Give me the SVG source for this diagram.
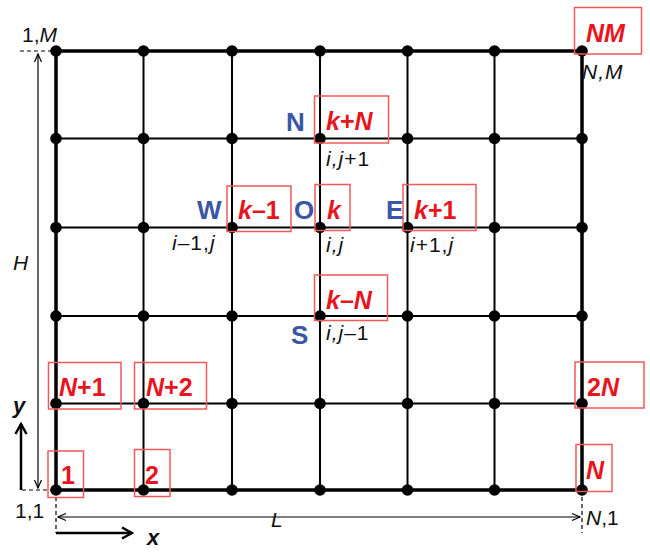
<svg xmlns="http://www.w3.org/2000/svg" width="650" height="552" viewBox="0 0 650 552">
<defs>
<marker id="dimArrow" markerWidth="10" markerHeight="10" refX="9" refY="5" orient="auto-start-reverse" markerUnits="userSpaceOnUse">
<path d="M1,1.5 L9,5 L1,8.5" fill="none" stroke="#000" stroke-width="1.2"/>
</marker>
<marker id="axArrow" markerWidth="14" markerHeight="14" refX="12" refY="7" orient="auto" markerUnits="userSpaceOnUse">
<path d="M2,1.5 L12,7 L2,12.5" fill="none" stroke="#000" stroke-width="2.5"/>
</marker>
<style>
.inner{stroke:#000;stroke-width:2;fill:none}
.outer{stroke:#000;stroke-width:3.5;fill:none}
.dim{stroke:#000;stroke-width:1.2;fill:none}
.dash{stroke:#000;stroke-width:1.2;stroke-dasharray:4,3;fill:none}
.axis{stroke:#000;stroke-width:2.5;fill:none}
.dot{fill:#000}
.box{fill:none;stroke:#f05a5a;stroke-width:1.5}
.red{font-family:"Liberation Sans",Arial,sans-serif;font-weight:bold;font-size:25px;fill:#e8141e}
.ri{font-style:italic}
.blue{font-family:"Liberation Sans",Arial,sans-serif;font-weight:bold;font-size:26px;fill:#3a56a6}
.lbl{font-family:"Liberation Sans",Arial,sans-serif;font-size:21px;fill:#111}
.sp{letter-spacing:1px}
.it{font-style:italic}
.ax{font-weight:bold;font-size:22px}
</style>
</defs>
<g id="connectors">
<path class="inner" d="M143.5,51V490M232,51V490M320,51V490M407.5,51V490M494.5,51V490M56,138.5H582M56,227.5H582M56,316H582M56,403.5H582"/>
<rect class="outer" x="56" y="51" width="526" height="439"/>
<line class="dim" x1="38" y1="54" x2="38" y2="488" marker-start="url(#dimArrow)" marker-end="url(#dimArrow)"/>
<line class="dim" x1="58" y1="517" x2="580" y2="517" marker-start="url(#dimArrow)" marker-end="url(#dimArrow)"/>
<line class="dash" x1="20" y1="51" x2="56" y2="51"/>
<line class="dash" x1="22" y1="490" x2="56" y2="490"/>
<line class="dash" x1="56" y1="490" x2="56" y2="533"/>
<line class="dash" x1="582" y1="490" x2="582" y2="533"/>
<path class="axis" d="M21,490V424" marker-end="url(#axArrow)"/>
<path class="axis" d="M56,533H132" marker-end="url(#axArrow)"/>
</g>
<g id="nodes">
<g id="n-1-6"><circle class="dot" cx="56" cy="51" r="5.8"/></g>
<g id="n-2-6"><circle class="dot" cx="143.5" cy="51" r="5.8"/></g>
<g id="n-3-6"><circle class="dot" cx="232" cy="51" r="5.8"/></g>
<g id="n-4-6"><circle class="dot" cx="320" cy="51" r="5.8"/></g>
<g id="n-5-6"><circle class="dot" cx="407.5" cy="51" r="5.8"/></g>
<g id="n-6-6"><circle class="dot" cx="494.5" cy="51" r="5.8"/></g>
<g id="n-7-6"><circle class="dot" cx="582" cy="51" r="5.8"/></g>
<g id="n-1-5"><circle class="dot" cx="56" cy="138.5" r="5.8"/></g>
<g id="n-2-5"><circle class="dot" cx="143.5" cy="138.5" r="5.8"/></g>
<g id="n-3-5"><circle class="dot" cx="232" cy="138.5" r="5.8"/></g>
<g id="n-4-5"><circle class="dot" cx="320" cy="138.5" r="5.8"/></g>
<g id="n-5-5"><circle class="dot" cx="407.5" cy="138.5" r="5.8"/></g>
<g id="n-6-5"><circle class="dot" cx="494.5" cy="138.5" r="5.8"/></g>
<g id="n-7-5"><circle class="dot" cx="582" cy="138.5" r="5.8"/></g>
<g id="n-1-4"><circle class="dot" cx="56" cy="227.5" r="5.8"/></g>
<g id="n-2-4"><circle class="dot" cx="143.5" cy="227.5" r="5.8"/></g>
<g id="n-3-4"><circle class="dot" cx="232" cy="227.5" r="5.8"/></g>
<g id="n-4-4"><circle class="dot" cx="320" cy="227.5" r="5.8"/></g>
<g id="n-5-4"><circle class="dot" cx="407.5" cy="227.5" r="5.8"/></g>
<g id="n-6-4"><circle class="dot" cx="494.5" cy="227.5" r="5.8"/></g>
<g id="n-7-4"><circle class="dot" cx="582" cy="227.5" r="5.8"/></g>
<g id="n-1-3"><circle class="dot" cx="56" cy="316" r="5.8"/></g>
<g id="n-2-3"><circle class="dot" cx="143.5" cy="316" r="5.8"/></g>
<g id="n-3-3"><circle class="dot" cx="232" cy="316" r="5.8"/></g>
<g id="n-4-3"><circle class="dot" cx="320" cy="316" r="5.8"/></g>
<g id="n-5-3"><circle class="dot" cx="407.5" cy="316" r="5.8"/></g>
<g id="n-6-3"><circle class="dot" cx="494.5" cy="316" r="5.8"/></g>
<g id="n-7-3"><circle class="dot" cx="582" cy="316" r="5.8"/></g>
<g id="n-1-2"><circle class="dot" cx="56" cy="403.5" r="5.8"/></g>
<g id="n-2-2"><circle class="dot" cx="143.5" cy="403.5" r="5.8"/></g>
<g id="n-3-2"><circle class="dot" cx="232" cy="403.5" r="5.8"/></g>
<g id="n-4-2"><circle class="dot" cx="320" cy="403.5" r="5.8"/></g>
<g id="n-5-2"><circle class="dot" cx="407.5" cy="403.5" r="5.8"/></g>
<g id="n-6-2"><circle class="dot" cx="494.5" cy="403.5" r="5.8"/></g>
<g id="n-7-2"><circle class="dot" cx="582" cy="403.5" r="5.8"/></g>
<g id="n-1-1"><circle class="dot" cx="56" cy="490" r="5.8"/></g>
<g id="n-2-1"><circle class="dot" cx="143.5" cy="490" r="5.8"/></g>
<g id="n-3-1"><circle class="dot" cx="232" cy="490" r="5.8"/></g>
<g id="n-4-1"><circle class="dot" cx="320" cy="490" r="5.8"/></g>
<g id="n-5-1"><circle class="dot" cx="407.5" cy="490" r="5.8"/></g>
<g id="n-6-1"><circle class="dot" cx="494.5" cy="490" r="5.8"/></g>
<g id="n-7-1"><circle class="dot" cx="582" cy="490" r="5.8"/></g>
</g>
<g id="index-labels">
<rect class="box" x="574.5" y="7.5" width="67" height="46.5"/>
<text class="red ri" x="586" y="42">NM</text>
<rect class="box" x="314.5" y="96" width="74" height="47"/>
<text class="red" x="326" y="130"><tspan class="ri">k</tspan>+<tspan class="ri">N</tspan></text>
<rect class="box" x="227" y="186" width="64" height="45.5"/>
<text class="red" x="238" y="219"><tspan class="ri">k</tspan>–1</text>
<rect class="box" x="315" y="184.5" width="35" height="46"/>
<text class="red ri" x="327" y="219">k</text>
<rect class="box" x="403" y="184.5" width="73" height="46"/>
<text class="red" x="414" y="219"><tspan class="ri">k</tspan>+1</text>
<rect class="box" x="314.5" y="275" width="73" height="45.5"/>
<text class="red" x="326" y="309"><tspan class="ri">k</tspan>–<tspan class="ri">N</tspan></text>
<rect class="box" x="48.5" y="362.5" width="72.5" height="46.5"/>
<text class="red" x="59" y="396"><tspan class="ri">N</tspan>+1</text>
<rect class="box" x="134.5" y="362.5" width="72" height="46.5"/>
<text class="red" x="146" y="396"><tspan class="ri">N</tspan>+2</text>
<rect class="box" x="48" y="451" width="35.5" height="46.5"/>
<text class="red" x="61" y="484">1</text>
<rect class="box" x="134.5" y="449.5" width="35.5" height="47"/>
<text class="red" x="145" y="484">2</text>
<rect class="box" x="575" y="362" width="69" height="46"/>
<text class="red" x="587" y="396">2<tspan class="ri">N</tspan></text>
<rect class="box" x="576" y="444.5" width="36" height="47"/>
<text class="red ri" x="586" y="479">N</text>
</g>
<g id="compass">
<text class="blue" x="286" y="131">N</text>
<text class="blue" x="197" y="219">W</text>
<text class="blue" x="294" y="219">O</text>
<text class="blue" x="386" y="219">E</text>
<text class="blue" x="291" y="344">S</text>
</g>
<g id="coord-labels">
<text class="lbl" x="22" y="42">1,<tspan class="it">M</tspan></text>
<text class="lbl it sp" x="582" y="79">N,M</text>
<text class="lbl sp" x="326" y="166"><tspan class="it">i,j</tspan>+1</text>
<text class="lbl sp" x="172" y="250"><tspan class="it">i</tspan>–1,<tspan class="it">j</tspan></text>
<text class="lbl it sp" x="326" y="252">i,j</text>
<text class="lbl sp" x="410" y="252"><tspan class="it">i</tspan>+1,<tspan class="it">j</tspan></text>
<text class="lbl sp" x="326" y="340"><tspan class="it">i,j</tspan>–1</text>
<text class="lbl" x="15" y="518">1,1</text>
<text class="lbl" x="586" y="525"><tspan class="it">N</tspan>,1</text>
<text class="lbl it" x="13" y="270">H</text>
<text class="lbl it" x="271" y="527">L</text>
<text class="lbl it ax" x="13" y="413">y</text>
<text class="lbl it ax" x="147" y="545">x</text>
</g>
</svg>
